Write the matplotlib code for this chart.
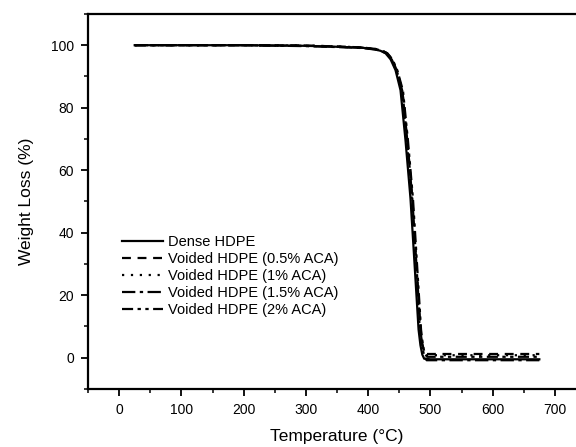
import matplotlib
matplotlib.use("Agg")
import matplotlib.pyplot as plt
from matplotlib.ticker import MultipleLocator

plt.rcParams.update({"font.family": ["Liberation Sans", "DejaVu Sans"],
                     "font.size": 10})

# TGA curves: temperature (C) vs remaining weight (%)
dense_T = [25, 100, 200, 300, 350, 390, 410, 420, 428, 436, 444, 452, 460,
           468, 473, 477, 481, 484, 487, 490, 500, 600, 675]
dense_W = [100, 100, 100, 99.8, 99.5, 99.2, 98.7, 98.2, 97.4, 95.5, 92, 85.6,
           69.6, 51, 35, 22, 9, 4, 1, -0.3, -0.5, -0.5, -0.5]

aca05_T = [25, 100, 200, 300, 350, 390, 412, 422, 430, 438, 446, 455, 463,
           471, 476, 480, 484, 487, 490, 494, 505, 600, 675]
aca05_W = [100, 100, 100, 99.9, 99.6, 99.3, 98.8, 98.3, 97.5, 95.6, 92, 85.5,
           69.5, 51, 35, 22, 9, 4.5, 2, 1.2, 1.2, 1.2, 1.2]

aca1_T = [25, 100, 200, 300, 350, 390, 411, 421, 429, 437, 445, 454, 462,
          470, 475, 479, 483, 486, 489, 493, 505, 600, 675]
aca1_W = [100, 100, 100, 99.9, 99.6, 99.3, 98.8, 98.3, 97.5, 95.6, 92, 85.5,
          69.5, 51, 35, 22, 9, 4.5, 1.8, 0.8, 0.8, 0.8, 0.8]

aca15_T = [25, 100, 200, 300, 350, 390, 412, 422, 430, 438, 446, 455, 463,
           471, 476, 480, 484, 487, 490, 494, 505, 600, 675]
aca15_W = [100, 100, 100, 99.7, 99.4, 99.1, 98.6, 98.1, 97.3, 95.4, 91.8, 85.3,
           69.3, 50.8, 34.8, 21.8, 8.8, 3.8, 0.4, -0.8, -0.8, -0.8, -0.8]

aca2_T = [25, 100, 200, 300, 350, 390, 413, 423, 431, 439, 447, 456, 464,
          472, 477, 481, 485, 488, 491, 495, 505, 600, 675]
aca2_W = [100, 100, 100, 99.8, 99.5, 99.2, 98.7, 98.2, 97.4, 95.5, 91.9, 85.4,
          69.4, 50.9, 34.9, 21.9, 8.9, 4, 1.2, 0.3, 0.3, 0.3, 0.3]

labels = ["Dense HDPE", "Voided HDPE (0.5% ACA)", "Voided HDPE (1% ACA)",
          "Voided HDPE (1.5% ACA)", "Voided HDPE (2% ACA)"]

fig = plt.figure(figsize=(5.76, 4.47), dpi=100)
ax = fig.add_axes([0.1528, 0.1298, 0.8646, 0.839])

lw = 1.6
ax.plot(dense_T, dense_W, "-", color="black", lw=lw, label=labels[0])
ax.plot(aca05_T, aca05_W, color="black", lw=lw, ls=(0, (4, 3)), label=labels[1])
ax.plot(aca1_T, aca1_W, color="black", lw=lw, ls=(0, (1, 3)), label=labels[2])
ax.plot(aca15_T, aca15_W, color="black", lw=lw, ls=(0, (6, 2, 1.5, 2)), label=labels[3])
ax.plot(aca2_T, aca2_W, color="black", lw=lw,
        ls=(0, (5, 2, 1.5, 2, 1.5, 2)), label=labels[4])

ax.set_xlim(-50, 750)
ax.set_ylim(-10, 110)
ax.xaxis.set_major_locator(MultipleLocator(100))
ax.xaxis.set_minor_locator(MultipleLocator(50))
ax.yaxis.set_major_locator(MultipleLocator(20))
ax.yaxis.set_minor_locator(MultipleLocator(10))
ax.set_xticks(range(0, 701, 100))
ax.set_yticks(range(0, 101, 20))
ax.tick_params(which="major", direction="out", length=5, width=1.3,
               labelsize=10, pad=5)
ax.tick_params(which="minor", direction="out", length=3, width=1.1)
for side in ("left", "bottom", "top", "right"):
    ax.spines[side].set_linewidth(1.6)

ax.set_xlabel("Temperature (°C)", fontsize=12.5, labelpad=9)
ax.set_ylabel("Weight Loss (%)", fontsize=12.5, labelpad=12)

ax.legend(loc="upper left", bbox_to_anchor=(0.068, 0.41), frameon=False,
          fontsize=10.5, handlelength=2.8, handletextpad=0.35,
          labelspacing=0.2, borderaxespad=0, borderpad=0)

fig.savefig("out.png", dpi=100)
